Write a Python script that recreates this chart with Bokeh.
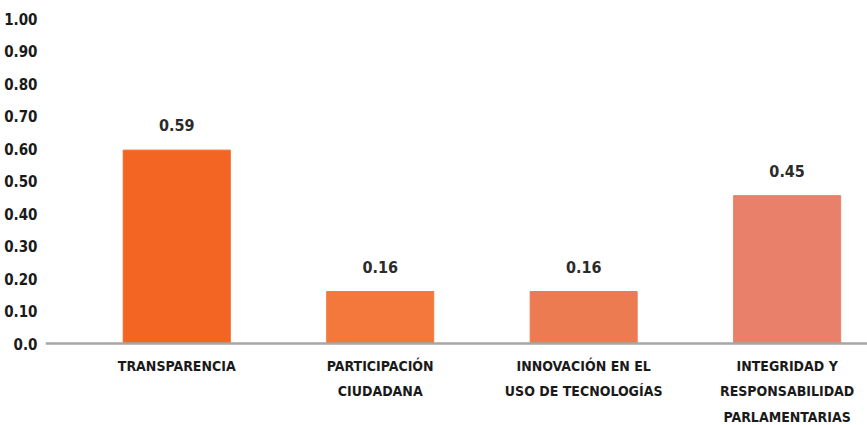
from bokeh.plotting import figure
from bokeh.models import ColumnDataSource, Range1d, FixedTicker, Span
from bokeh.embed import file_html
from bokeh.resources import INLINE
from bokeh.core.properties import value

categories = ["TRANSPARENCIA", "PARTICIPACIÓN\nCIUDADANA", "INNOVACIÓN EN EL\nUSO DE TECNOLOGÍAS",
              "INTEGRIDAD Y\nRESPONSABILIDAD\nPARLAMENTARIAS"]
values = [0.595, 0.16, 0.16, 0.455]
value_labels = ["0.59", "0.16", "0.16", "0.45"]
colors = ["#F36523", "#F4783C", "#EC7B52", "#E8806A"]
y_ticks = [0.0, 0.1, 0.2, 0.3, 0.4, 0.5, 0.6, 0.7, 0.8, 0.9, 1.0]
y_tick_labels = ["0.0", "0.10", "0.20", "0.30", "0.40", "0.50", "0.60", "0.70", "0.80", "0.90", "1.00"]

FONT = "DejaVu Sans Condensed"

xs = list(range(len(categories)))
zeros = [0] * len(categories)
src = ColumnDataSource(dict(x=xs, top=values, color=colors, lab=value_labels, cat=categories, zero=zeros))

p = figure(width=867, height=425, output_backend="svg", toolbar_location=None,
           x_range=Range1d(-0.645, 3.395), y_range=Range1d(-0.2523, 1.0),
           min_border_left=45, min_border_right=0, min_border_top=18, min_border_bottom=0)
p.outline_line_color = None
p.xgrid.visible = False
p.ygrid.visible = False
p.xaxis.visible = False

p.vbar(x="x", top="top", width=0.526, bottom=0, color="color", source=src)
p.add_layout(Span(location=0, dimension="width", line_color="#a6a6a6", line_width=2.5))
p.text(x="x", y="top", text="lab", source=src, text_align="center", text_baseline="bottom",
       y_offset=-19, text_font=value(FONT), text_font_style="bold", text_font_size="16px",
       text_color="#2b2b2b")
p.text(x="x", y="zero", text="cat", source=src, text_align="center", text_baseline="top",
       y_offset=14, text_font=value(FONT), text_font_style="bold", text_font_size="14px",
       text_color="#1a1a1a", text_line_height=1.6)

# y axis
ya = p.yaxis[0]
ya.ticker = FixedTicker(ticks=y_ticks)
ya.major_label_overrides = {t: l for t, l in zip(y_ticks, y_tick_labels)}
ya.axis_line_color = None
ya.major_tick_line_color = None
ya.minor_tick_line_color = None
ya.major_tick_out = 0
ya.major_tick_in = 0
ya.minor_tick_out = 0
ya.minor_tick_in = 0
ya.major_label_standoff = 8
ya.major_label_text_font = FONT
ya.major_label_text_font_style = "bold"
ya.major_label_text_font_size = "15px"
ya.major_label_text_color = "#1a1a1a"

open("out.html", "w").write(file_html(p, INLINE))
